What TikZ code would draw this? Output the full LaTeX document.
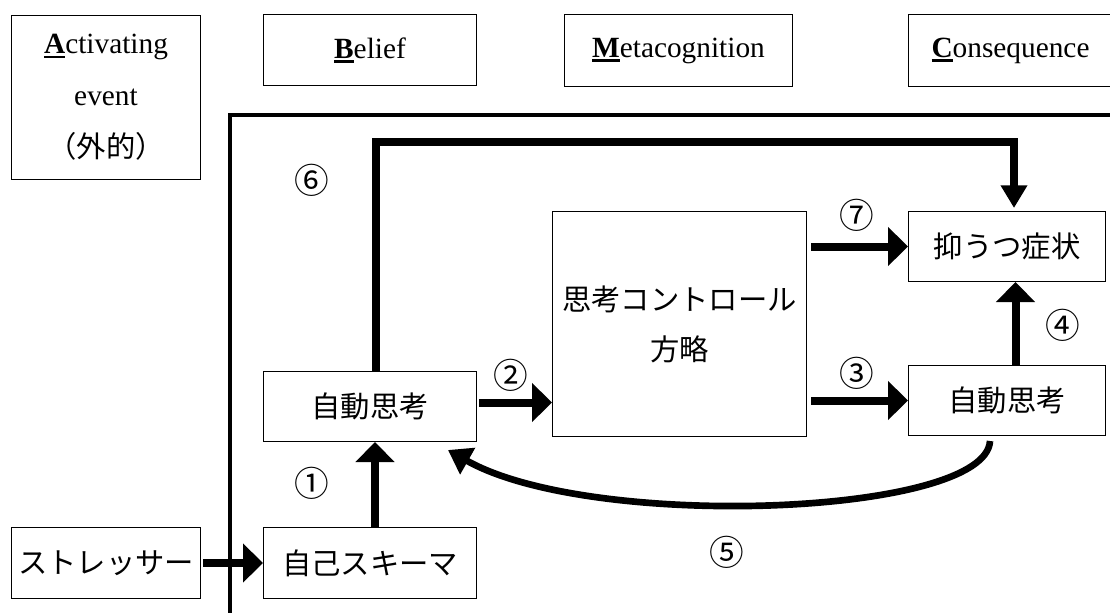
\documentclass[tikz,border=0pt]{standalone}
\usepackage{fontspec}
\setmainfont{Liberation Serif}
\newfontfamily\jp{Noto Sans CJK JP}
\usetikzlibrary{arrows.meta,calc}
% bold initial with a thick underline
\newsavebox\capbox
\newcommand\capu[1]{\sbox\capbox{\textbf{#1}}\rlap{\rule[-3.5pt]{\wd\capbox}{2pt}}\usebox\capbox}
\begin{document}
\begin{tikzpicture}[x=0.75pt,y=-0.75pt,
  box/.style={draw,line width=0.75pt,inner sep=0pt,anchor=north west,align=center},
  wh/.style 2 args={minimum width={#1*0.75pt},minimum height={#2*0.75pt}},
  lat/.style={font=\fontsize{22}{39}\selectfont},
  jpf/.style={font=\jp\fontsize{22}{37.5}\selectfont},
  num/.style={font=\jp\fontsize{26}{28}\selectfont,inner sep=0pt},
  flow/.style={line width=6pt,-{Triangle[width=28.5pt,length=15pt]}},
  loopflow/.style={line width=5.3pt,-{Triangle[width=19pt,length=17pt]}},
  backflow/.style={line width=5pt,-{Triangle[width=22pt,length=17pt]}},
  frame/.style={line width=2.8pt}]

\useasboundingbox (0,0) rectangle (1110,612);
\fill[white] (0,0) rectangle (1110,612);

% column headings
\node[box,wh={189}{164},lat] (act) at (11,15) {\capu{A}ctivating\\event\\{\jp （外的）}};
\node[box,wh={213}{71},lat] (bel) at (263,14) {\capu{B}elief};
\node[box,wh={228}{72},lat] (meta) at (564,14) {\capu{M}etacognition};
\node[box,wh={204}{72},lat] (cons) at (908,14) {\capu{C}onsequence};

% open frame around the model
\draw[frame] (230,616) -- (230,115) -- (1114,115);

% model boxes
\node[box,wh={189}{71},jpf] (str) at (11,527) {ストレッサー};
\node[box,wh={213}{71},jpf] (schema) at (263,527) {自己スキーマ};
\node[box,wh={213}{70},jpf] (al) at (263,371) {自動思考};
\node[box,wh={254}{225},jpf] (tc) at (552,211) {思考コントロール\\方略};
\node[box,wh={197}{70},jpf] (dep) at (908,211) {抑うつ症状};
\node[box,wh={197}{70},jpf] (ar) at (908,365) {自動思考};

% connectors
\draw[flow] ($(str.east)+(2,0)$) -- (schema.west);
\draw[flow] ($(schema.north)+(5,0)$) -- ($(al.south)+(5,0)$);
\draw[flow] ($(al.east)+(2,-4)$) -- ($(al.east -| tc.west)+(0,-4)$);
\draw[flow] ($(dep.west -| tc.east)+(4,0)$) -- (dep.west);
\draw[flow] ($(ar.west -| tc.east)+(4,0)$) -- (ar.west);
\draw[flow] ($(ar.north)+(8.5,0)$) -- ($(dep.south)+(8.5,0)$);
\draw[loopflow] ($(al.north)+(6,0)$) |- ($(dep.north)+(7,-69)$) -- ($(dep.north)+(7,-3)$);
\draw[backflow] ($(ar.south)+(-17,5)$) .. controls ($(ar.south)+(-21,80)$) and ($(al.south east)+(114,89)$) .. ($(al.south east)+(-29,8)$);

% path numbers
\node[num] (n1) at (312,483) {①};
\node[num] (n2) at (511,375) {②};
\node[num] (n3) at (857,373) {③};
\node[num] (n4) at (1063,325) {④};
\node[num] (n5) at (727,552) {⑤};
\node[num] (n6) at (312,180) {⑥};
\node[num] (n7) at (857,215) {⑦};
\end{tikzpicture}
\end{document}
